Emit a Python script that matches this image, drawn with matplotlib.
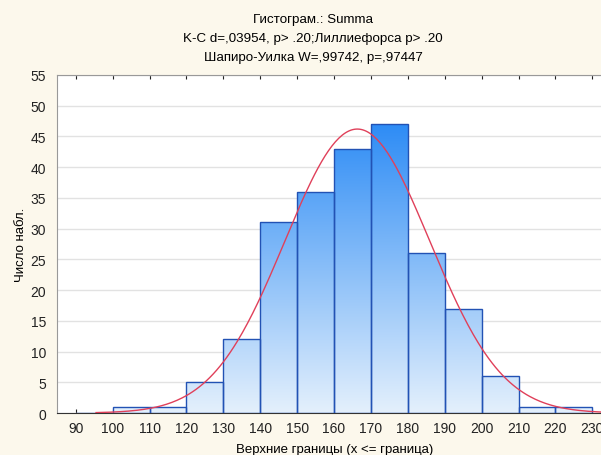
import numpy as np
import matplotlib
matplotlib.use("Agg")
import matplotlib.pyplot as plt
from matplotlib.colors import LinearSegmentedColormap

plt.rcParams['font.family'] = ['Liberation Sans', 'DejaVu Sans']

# upper bin borders and counts
bin_edges = [90, 100, 110, 120, 130, 140, 150, 160, 170, 180, 190, 200, 210, 220, 230]
counts = [0, 1, 1, 5, 12, 31, 36, 43, 47, 26, 17, 6, 1, 1]
# fitted normal curve parameters
mean_val = 166.3
sd_val = 19.6
n_obs = 227

title_lines = ["Гистограм.: Summa",
               "K-C d=,03954, p> .20;Лиллиефорса p> .20",
               "Шапиро-Уилка W=,99742, p=,97447"]

fig = plt.figure(figsize=(6.01, 4.56), dpi=100)
fig.patch.set_facecolor('#fcf8ec')
ax = fig.add_axes([57.3 / 601, 1 - 414 / 456, 1 - 57.3 / 601, 338 / 456])
ax.set_facecolor('white')

lefts = np.array(bin_edges[:-1])
widths = np.diff(bin_edges)
bars = ax.bar(lefts, counts, width=widths, align='edge', color='none',
              edgecolor='#2252b4', linewidth=1.0, zorder=3)

cmap = LinearSegmentedColormap.from_list('bl', ['#e4f0fc', '#2a8af5'])
grad = np.linspace(0, 1, 256).reshape(-1, 1)
for b in bars:
    im = ax.imshow(grad, cmap=cmap, origin='lower', aspect='auto',
                   extent=[85, 235, 0, 48], zorder=2, interpolation='bilinear')
    im.set_clip_path(b)

xs = np.linspace(95.5, 235, 300)
ys = n_obs * 10 / (np.sqrt(2 * np.pi) * sd_val) * np.exp(-0.5 * ((xs - mean_val) / sd_val) ** 2)
ax.plot(xs, ys, color='#e0405a', linewidth=1.0, zorder=4)

ax.set_xlim(85, 85 + (601 - 57.3) / 3.69)
ax.set_ylim(0, 55)
ax.set_xticks(bin_edges)
ax.set_yticks(range(0, 56, 5))
ax.yaxis.grid(True, color='#e2e2e2', linewidth=1.0, zorder=0)
ax.set_axisbelow(True)
ax.tick_params(direction='in', top=True, length=3, labelsize=10, colors='#222222',
               pad=6)
ax.tick_params(axis='y', length=0, pad=8)
for s in ['top', 'left']:
    ax.spines[s].set_color('#999999')
ax.spines['right'].set_visible(False)
ax.spines['bottom'].set_color('#333333')

fig.text(21.5 / 601, 1 - 245 / 456, 'Число набл.', rotation=90, ha='center',
         va='center', fontsize=9.5)
fig.text(335 / 601, 1 - 450 / 456, 'Верхние границы (x <= граница)', ha='center',
         va='center', fontsize=9.5)
for i, t in enumerate(title_lines):
    fig.text(313 / 601, 1 - (20.5 + 18.7 * i) / 456, t, ha='center', va='center',
             fontsize=9.6)

fig.savefig('out.png', dpi=100, facecolor=fig.get_facecolor())
